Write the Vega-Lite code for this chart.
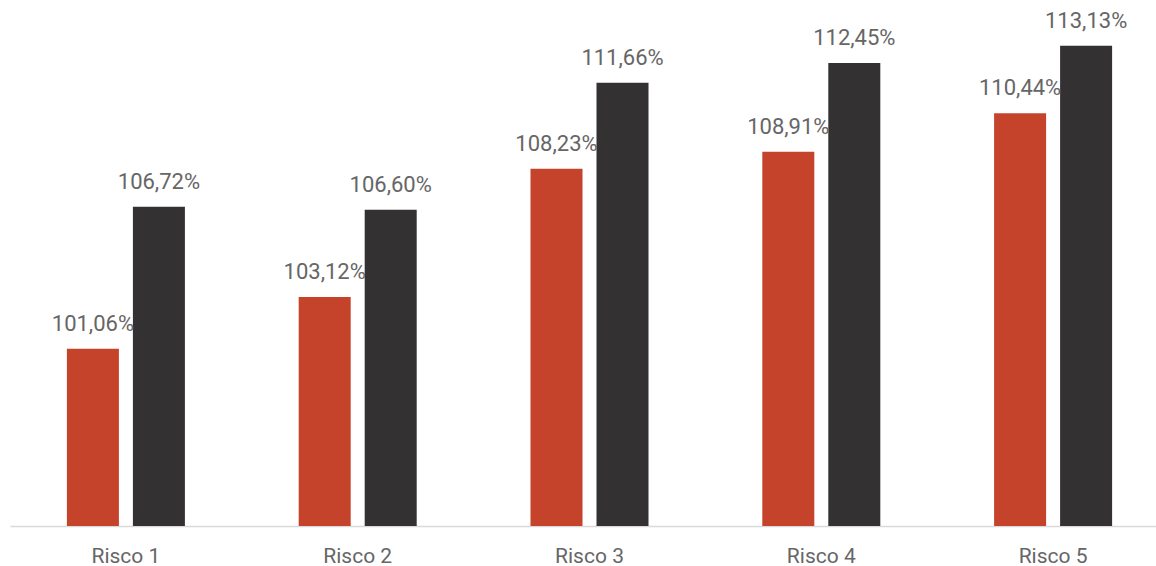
{
  "$schema": "https://vega.github.io/schema/vega-lite/v6.json",
  "autosize": {"type": "none"},
  "width": 1159,
  "height": 502,
  "padding": {"left": 10, "top": 24, "right": 0, "bottom": 40},
  "background": "white",
  "config": {
    "view": {"stroke": null},
    "font": "Roboto",
    "locale": {"number": {"decimal": ",", "thousands": ".", "grouping": [3], "currency": ["", ""]}}
  },
  "data": {
    "values": [
      {"risco": "Risco 1", "serie": "A", "valor": 1.0106},
      {"risco": "Risco 1", "serie": "B", "valor": 1.0672},
      {"risco": "Risco 2", "serie": "A", "valor": 1.0312},
      {"risco": "Risco 2", "serie": "B", "valor": 1.0660},
      {"risco": "Risco 3", "serie": "A", "valor": 1.0823},
      {"risco": "Risco 3", "serie": "B", "valor": 1.1166},
      {"risco": "Risco 4", "serie": "A", "valor": 1.0891},
      {"risco": "Risco 4", "serie": "B", "valor": 1.1245},
      {"risco": "Risco 5", "serie": "A", "valor": 1.1044},
      {"risco": "Risco 5", "serie": "B", "valor": 1.1313}
    ]
  },
  "encoding": {
    "x": {
      "field": "risco", "type": "nominal",
      "scale": {"paddingInner": 0, "paddingOuter": 0},
      "axis": {
        "title": null, "labelAngle": 0, "ticks": false,
        "domainColor": "#d9d9d9", "domainWidth": 1.5,
        "labelFont": "Roboto", "labelFontSize": 21, "labelColor": "#666666",
        "labelPadding": 19
      }
    },
    "xOffset": {
      "field": "serie", "type": "nominal",
      "scale": {"paddingInner": 0.212, "paddingOuter": 0.862}
    },
    "y": {
      "field": "valor", "type": "quantitative",
      "scale": {"domain": [0.94, 1.14], "zero": false, "nice": false, "clamp": true},
      "axis": null
    }
  },
  "layer": [
    {
      "mark": {"type": "bar", "clip": true},
      "encoding": {
        "y2": {"datum": 0.94},
        "color": {
          "field": "serie", "type": "nominal",
          "scale": {"domain": ["A", "B"], "range": ["#C5432B", "#333132"]},
          "legend": null
        }
      }
    },
    {
      "mark": {"type": "text", "baseline": "alphabetic", "dy": -18, "fontSize": 22, "font": "Roboto", "color": "#666666"},
      "encoding": {
        "text": {"field": "valor", "type": "quantitative", "format": ".2%"}
      }
    }
  ]
}
